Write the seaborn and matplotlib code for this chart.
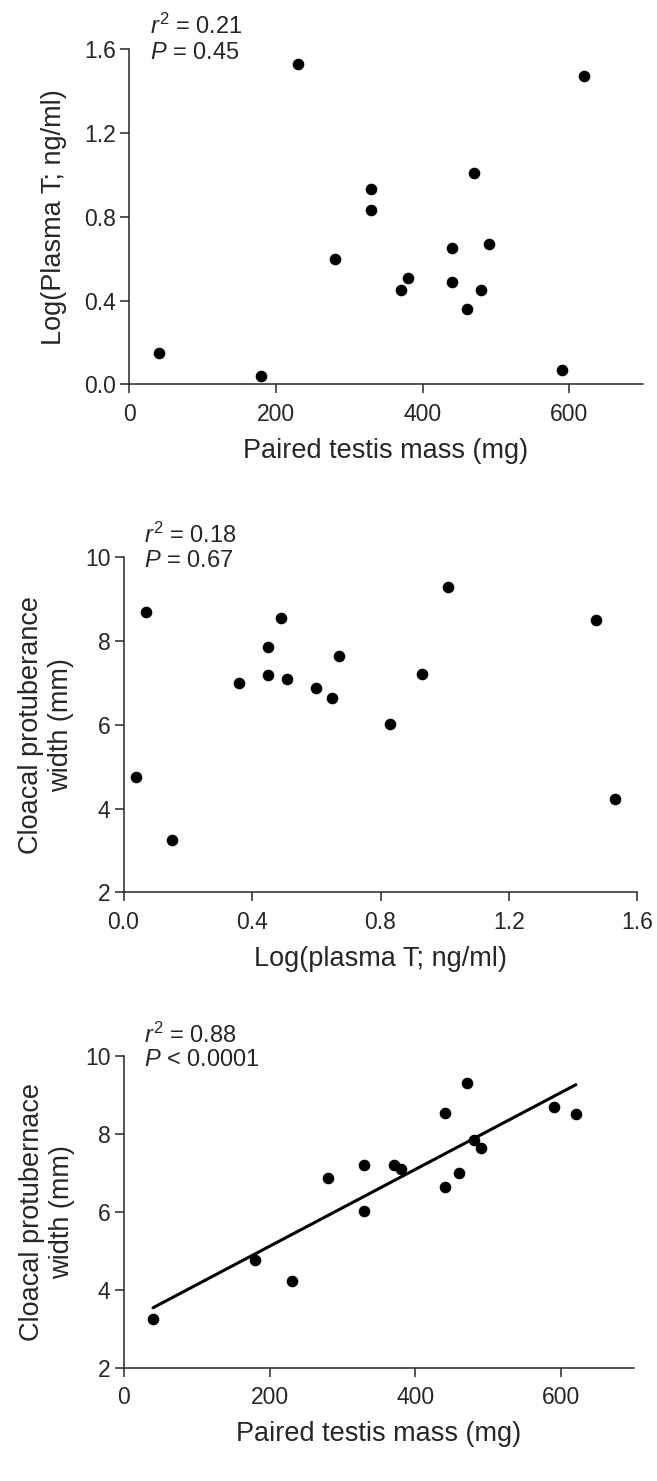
import numpy as np
import pandas as pd
import seaborn as sns
import matplotlib.pyplot as plt

# one row per bird
testis_mass = [40, 180, 230, 280, 330, 330, 370, 380, 440, 440, 460, 470, 480, 490, 590, 620]
log_plasma_t = [0.15, 0.04, 1.53, 0.60, 0.93, 0.83, 0.45, 0.51, 0.49, 0.65, 0.36, 1.01, 0.45, 0.67, 0.07, 1.47]
cp_width = [3.25, 4.75, 4.23, 6.87, 7.21, 6.02, 7.20, 7.10, 8.55, 6.63, 7.00, 9.30, 7.85, 7.65, 8.70, 8.50]

stats_1 = ["$r^2$ = 0.21", "$P$ = 0.45"]
stats_2 = ["$r^2$ = 0.18", "$P$ = 0.67"]
stats_3 = ["$r^2$ = 0.88", "$P$ < 0.0001"]

df = pd.DataFrame({"mass": testis_mass, "logT": log_plasma_t, "cp": cp_width})

sns.set_style("ticks")
plt.rcParams['font.family'] = ['Liberation Sans', 'DejaVu Sans']
plt.rcParams['mathtext.fontset'] = 'custom'
plt.rcParams['mathtext.rm'] = 'Liberation Sans'
plt.rcParams['mathtext.it'] = 'Liberation Sans:italic'
plt.rcParams['axes.linewidth'] = 1.1
plt.rcParams['xtick.major.width'] = 1.1
plt.rcParams['ytick.major.width'] = 1.1
plt.rcParams['xtick.major.size'] = 6.5
plt.rcParams['ytick.major.size'] = 6.5

fig = plt.figure(figsize=(6.57, 14.81), dpi=100)
ax1 = fig.add_axes([0.1967, 0.7404, 0.7813, 0.2265])
ax2 = fig.add_axes([0.1880, 0.3975, 0.7823, 0.2262])
ax3 = fig.add_axes([0.1884, 0.0766, 0.7770, 0.2103])

tick_fs = 16.5
label_fs = 19.5
note_fs = 17
dot = 70

sns.scatterplot(x='mass', y='logT', data=df, ax=ax1, color='black', s=dot, linewidth=0, clip_on=False)
ax1.set_xlim(0, 700)
ax1.set_ylim(0, 1.6)
ax1.set_xticks([0, 200, 400, 600])
ax1.set_yticks([0.0, 0.4, 0.8, 1.2, 1.6])
ax1.set_yticklabels(['0.0', '0.4', '0.8', '1.2', '1.6'])
ax1.set_xlabel('Paired testis mass (mg)', fontsize=label_fs)
ax1.set_ylabel('Log(Plasma T; ng/ml)', fontsize=label_fs)
ax1.yaxis.set_label_coords(-0.122, 0.5)
ax1.xaxis.set_label_coords(0.5, -0.160)

sns.scatterplot(x='logT', y='cp', data=df, ax=ax2, color='black', s=dot, linewidth=0, clip_on=False)
ax2.set_xlim(0, 1.6)
ax2.set_ylim(2, 10)
ax2.set_xticks([0.0, 0.4, 0.8, 1.2, 1.6])
ax2.set_xticklabels(['0.0', '0.4', '0.8', '1.2', '1.6'])
ax2.set_yticks([2, 4, 6, 8, 10])
ax2.set_xlabel('Log(plasma T; ng/ml)', fontsize=label_fs)
ax2.set_ylabel('Cloacal protuberance\nwidth (mm)', fontsize=label_fs)
ax2.yaxis.set_label_coords(-0.096, 0.5)
ax2.xaxis.set_label_coords(0.5, -0.161)

sns.regplot(x='mass', y='cp', data=df, ax=ax3, ci=None, color='black',
            scatter_kws={'s': dot, 'linewidths': 0, 'alpha': 1, 'clip_on': False},
            line_kws={'lw': 2.2})
ax3.set_xlim(0, 700)
ax3.set_ylim(2, 10)
ax3.set_xticks([0, 200, 400, 600])
ax3.set_yticks([2, 4, 6, 8, 10])
ax3.set_xlabel('Paired testis mass (mg)', fontsize=label_fs)
ax3.set_ylabel('Cloacal protubernace\nwidth (mm)', fontsize=label_fs)
ax3.yaxis.set_label_coords(-0.0955, 0.5)
ax3.xaxis.set_label_coords(0.5, -0.173)

for ax, st in [(ax1, stats_1), (ax2, stats_2), (ax3, stats_3)]:
    sns.despine(ax=ax)
    ax.tick_params(axis='x', labelsize=tick_fs, pad=7)
    ax.tick_params(axis='y', labelsize=tick_fs, pad=3)
    ax.text(0.04, 1.067, st[0], transform=ax.transAxes, fontsize=note_fs, va='center', ha='left')
    ax.text(0.04, 0.988, st[1], transform=ax.transAxes, fontsize=note_fs, va='center', ha='left')

fig.savefig('out.png', dpi=100)
